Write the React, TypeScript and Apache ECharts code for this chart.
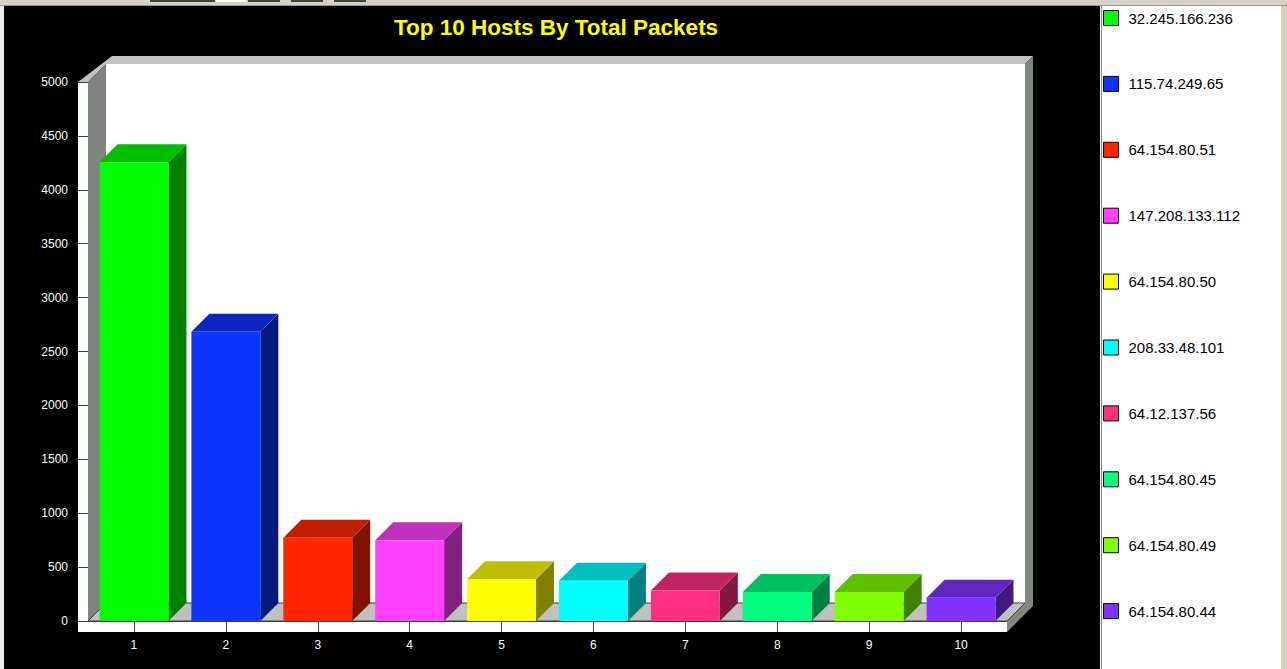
import React, { useEffect, useRef } from 'react';
import * as echarts from 'echarts';

const categories = ['1', '2', '3', '4', '5', '6', '7', '8', '9', '10'];
const hosts = [
  '32.245.166.236',
  '115.74.249.65',
  '64.154.80.51',
  '147.208.133.112',
  '64.154.80.50',
  '208.33.48.101',
  '64.12.137.56',
  '64.154.80.45',
  '64.154.80.49',
  '64.154.80.44',
];
const packets = [4255, 2683, 773, 750, 387, 374, 284, 269, 268, 216];
const yMin = 0;
const yMax = 5000;
const yStep = 500;
const titleText = 'Top 10 Hosts By Total Packets';

const barColors = [
  '#00ff00',
  '#1034ff',
  '#ff2600',
  '#ff40ff',
  '#ffff00',
  '#00ffff',
  '#ff3080',
  '#00ff80',
  '#80ff00',
  '#8033ff',
];

const DEPTH = 18;
const FONT = '"Liberation Sans", Arial, sans-serif';

function shade(hex: string, f: number): string {
  const n = parseInt(hex.slice(1), 16);
  const r = Math.round(((n >> 16) & 255) * f);
  const g = Math.round(((n >> 8) & 255) * f);
  const b = Math.round((n & 255) * f);
  return 'rgb(' + r + ',' + g + ',' + b + ')';
}

function renderBar(color: string) {
  return (params: any, api: any) => {
    const idx = api.value(0);
    const val = api.value(1);
    const base = api.coord([idx, 0]);
    const top = api.coord([idx, val]);
    const bw = api.size([1, 0])[0] * 0.75;
    const d = DEPTH;
    const x0 = base[0] - bw / 2;
    const x1 = base[0] + bw / 2;
    const y0 = top[1];
    const yb = base[1];
    return {
      type: 'group',
      children: [
        {
          type: 'polygon',
          shape: { points: [[x1, y0], [x1 + d, y0 - d], [x1 + d, yb - d], [x1, yb]] },
          style: { fill: shade(color, 0.5) },
        },
        {
          type: 'polygon',
          shape: { points: [[x0, y0], [x0 + d, y0 - d], [x1 + d, y0 - d], [x1, y0]] },
          style: { fill: shade(color, 0.75) },
        },
        {
          type: 'rect',
          shape: { x: x0, y: y0, width: bw, height: yb - y0 },
          style: { fill: color },
        },
      ],
    };
  };
}

function renderFrame(params: any) {
  const cs = params.coordSys;
  const x = cs.x;
  const y = cs.y;
  const w = cs.width;
  const h = cs.height;
  const d = DEPTH;
  const L = x - 10; // front face of left wall
  const yb = y + h;
  return {
    type: 'group',
    children: [
      // back wall
      { type: 'rect', shape: { x: x + d, y: y - d, width: w, height: h }, style: { fill: '#ffffff' } },
      // top light band + top of left wall
      {
        type: 'polygon',
        shape: {
          points: [[L, y], [x, y], [x + d, y - d], [x + w + d, y - d], [x + w + d + 8, y - d - 8], [x + 24, y - d - 8]],
        },
        style: { fill: '#c0c0c0' },
      },
      // left side wall
      {
        type: 'polygon',
        shape: { points: [[x, y], [x + d, y - d], [x + d, yb - d], [x, yb]] },
        style: { fill: '#7f847f' },
      },
      // right thickness of back wall / floor
      {
        type: 'polygon',
        shape: {
          points: [
            [x + w + d, y - d],
            [x + w + d + 8, y - d - 8],
            [x + w + d + 8, yb - d + 3],
            [x + w, yb + 11],
            [x + w, yb],
            [x + w + d, yb - d],
          ],
        },
        style: { fill: '#808780' },
      },
      // floor
      {
        type: 'polygon',
        shape: { points: [[x, yb], [x + d, yb - d], [x + w + d, yb - d], [x + w, yb]] },
        style: { fill: '#c0c0c0', stroke: '#404040', lineWidth: 1 },
      },
      // left wall front face
      { type: 'rect', shape: { x: L, y: y, width: 10, height: h + 11 }, style: { fill: '#ffffff' } },
      // floor front face
      { type: 'rect', shape: { x: L, y: yb, width: w + 10, height: 11 }, style: { fill: '#ffffff' } },
      {
        type: 'line',
        shape: { x1: L, y1: yb + 0.5, x2: x + w, y2: yb + 0.5 },
        style: { stroke: '#404040', lineWidth: 1 },
      },
    ],
  };
}

export default function App() {
  const ref = useRef<HTMLDivElement>(null);

  useEffect(() => {
    if (!ref.current) return;
    const chart = echarts.init(ref.current, null, { renderer: 'svg' });

    const barSeries = hosts.map((name, i) => ({
      type: 'custom',
      name,
      z: 3,
      silent: true,
      itemStyle: { color: barColors[i] },
      renderItem: renderBar(barColors[i]),
      encode: { x: 0, y: 1 },
      data: [[i, packets[i]]],
    }));

    const option: any = {
      animation: false,
      backgroundColor: '#000000',
      textStyle: { fontFamily: FONT },
      graphic: [
        { type: 'rect', shape: { x: 0, y: 0, width: 1287, height: 5 }, style: { fill: '#d4d0c8' } },
        { type: 'line', shape: { x1: 0, y1: 5.5, x2: 1287, y2: 5.5 }, style: { stroke: '#9a9890', lineWidth: 1 } },
        { type: 'rect', shape: { x: 150, y: 0, width: 65, height: 2 }, style: { fill: '#404040' } },
        { type: 'rect', shape: { x: 216, y: 0, width: 30, height: 2 }, style: { fill: '#ffffff' } },
        { type: 'rect', shape: { x: 248, y: 0, width: 32, height: 2 }, style: { fill: '#404040' } },
        { type: 'rect', shape: { x: 291, y: 0, width: 32, height: 2 }, style: { fill: '#404040' } },
        { type: 'rect', shape: { x: 334, y: 0, width: 32, height: 2 }, style: { fill: '#404040' } },
        { type: 'rect', shape: { x: 0, y: 6, width: 4, height: 663 }, style: { fill: '#ececec' } },
        { type: 'rect', shape: { x: 1100, y: 6, width: 181, height: 663 }, style: { fill: '#ffffff' } },
        { type: 'line', shape: { x1: 1101.5, y1: 6, x2: 1101.5, y2: 669 }, style: { stroke: '#808080', lineWidth: 1 } },
        { type: 'rect', shape: { x: 1281, y: 6, width: 6, height: 663 }, style: { fill: '#d4d0c8' } },
        {
          type: 'text',
          x: 556,
          y: 27,
          z: 10,
          style: {
            text: titleText,
            fill: '#ffff00',
            font: 'bold 22.5px "Liberation Sans", Arial, sans-serif',
            textAlign: 'center',
            textVerticalAlign: 'middle',
          },
        },
      ],
      legend: {
        orient: 'vertical',
        left: 1098,
        top: 5,
        padding: 5,
        itemWidth: 15,
        itemHeight: 15,
        itemGap: 49.9,
        icon: 'rect',
        selectedMode: false,
        data: hosts,
        itemStyle: { borderColor: '#000000', borderWidth: 1 },
        textStyle: {
          color: '#000000',
          fontSize: 15,
          lineHeight: 16,
          fontFamily: FONT,
          padding: [0, 0, 0, 5],
        },
      },
      grid: { left: 88, top: 82, width: 919, height: 539, containLabel: false },
      xAxis: {
        type: 'category',
        data: categories,
        z: 10,
        axisLine: { show: false },
        axisTick: { show: true, alignWithLabel: true, length: 11, lineStyle: { color: '#404040' } },
        axisLabel: { color: '#ffffff', fontSize: 12, margin: 18, fontFamily: FONT },
        splitLine: { show: false },
      },
      yAxis: {
        type: 'value',
        min: yMin,
        max: yMax,
        interval: yStep,
        z: 10,
        axisLine: { show: false },
        axisTick: { show: true, length: 10, lineStyle: { color: '#404040' } },
        axisLabel: {
          color: '#ffffff',
          fontSize: 12,
          margin: 20,
          fontFamily: FONT,
          formatter: (v: number) => String(v),
        },
        splitLine: { show: false },
      },
      series: [
        {
          type: 'custom',
          name: '__frame',
          z: 1,
          silent: true,
          renderItem: renderFrame,
          encode: { x: 0, y: 1 },
          data: [[0, 0]],
        },
        ...barSeries,
      ],
    };

    chart.setOption(option);
    return () => chart.dispose();
  }, []);

  return (
    <div
      ref={ref}
      style={{ position: 'fixed', left: 0, top: 0, width: 1287, height: 669 }}
    />
  );
}
